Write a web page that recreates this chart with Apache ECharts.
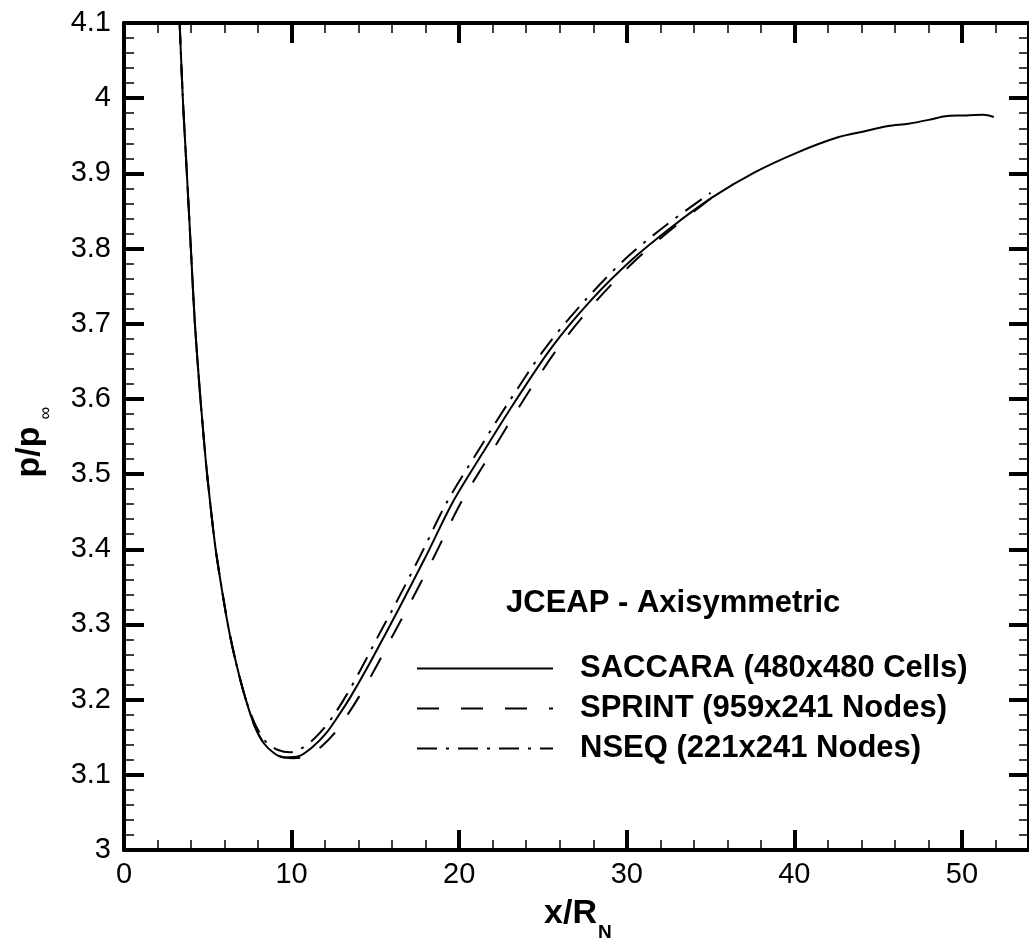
<!DOCTYPE html>
<html>
<head>
<meta charset="utf-8">
<script src="https://cdn.jsdelivr.net/npm/echarts@6/dist/echarts.min.js"></script>
<style>
html,body{margin:0;padding:0;background:#fff;}
#chart{width:1029px;height:940px;}
</style>
</head>
<body>
<div id="chart"></div>
<script>
// ---- data ----
const seriesNames = ['SACCARA (480x480 Cells)', 'SPRINT (959x241 Nodes)', 'NSEQ (221x241 Nodes)'];

const saccaraX = [3.32, 3.51, 3.75, 3.99, 4.23, 4.56, 4.67, 4.87, 5.12, 5.47, 5.94, 6.30, 6.74, 7.27, 7.81, 8.34, 9.0, 9.57, 10.46, 11.25, 12.05, 12.84, 13.5, 14.43, 15.62, 16.4, 18.0, 19.6, 21.4, 23.2, 25.5, 27.9, 30.3, 32.7, 35.1, 37.6, 40.2, 42.6, 44.2, 45.6, 46.8, 48.2, 49.0, 50.1, 51.3, 51.9];
const saccaraY = [4.1, 4.0, 3.9, 3.8, 3.7, 3.6, 3.572, 3.52, 3.466, 3.40, 3.333, 3.288, 3.244, 3.2, 3.164, 3.142, 3.128, 3.123, 3.125, 3.137, 3.155, 3.180, 3.203, 3.239, 3.288, 3.321, 3.39, 3.462, 3.528, 3.592, 3.668, 3.732, 3.785, 3.829, 3.868, 3.901, 3.928, 3.948, 3.956, 3.963, 3.966, 3.972, 3.976, 3.977, 3.978, 3.975];

const sprintX = [3.32, 3.51, 3.75, 3.99, 4.23, 4.56, 4.87, 5.12, 5.47, 5.94, 6.30, 6.74, 7.27, 7.81, 8.34, 9.0, 9.6, 10.1, 11.0, 11.75, 12.55, 13.34, 14.0, 14.93, 16.1, 16.9, 18.5, 20.1, 21.9, 23.65, 25.9, 28.25, 30.55, 32.85, 35.1];
const sprintY = [4.1, 4.0, 3.9, 3.8, 3.7, 3.6, 3.52, 3.466, 3.40, 3.333, 3.288, 3.244, 3.2, 3.164, 3.142, 3.128, 3.123, 3.122, 3.125, 3.137, 3.155, 3.180, 3.203, 3.239, 3.288, 3.321, 3.39, 3.462, 3.528, 3.592, 3.668, 3.732, 3.785, 3.829, 3.868];

const nseqX = [3.32, 3.51, 3.75, 3.99, 4.23, 4.56, 4.87, 5.12, 5.47, 5.94, 6.30, 6.74, 7.27, 7.85, 8.5, 9.2, 9.9, 10.5, 11.2, 11.9, 12.6, 13.3, 14.1, 15.25, 16.05, 17.65, 19.25, 21.05, 22.85, 25.15, 27.55, 29.95, 32.4, 35.0];
const nseqY = [4.1, 4.0, 3.9, 3.8, 3.7, 3.6, 3.52, 3.466, 3.40, 3.333, 3.288, 3.244, 3.2, 3.166, 3.143, 3.133, 3.130, 3.134, 3.145, 3.161, 3.182, 3.207, 3.239, 3.288, 3.321, 3.39, 3.462, 3.528, 3.592, 3.668, 3.732, 3.787, 3.832, 3.874];

const xTickMajor = 10, xTickMinor = 2, xMin = 0, xMax = 54;
const yTickMajor = 0.1, yMin = 3, yMax = 4.1;
const legendTitle = 'JCEAP - Axisymmetric';

// ---- chart ----
const pairs = (xs, ys) => xs.map((x, i) => [x, ys[i]]);
const FONT = '"Liberation Sans", Arial, Helvetica, sans-serif';

const chart = echarts.init(document.getElementById('chart'), null, {renderer: 'canvas'});

const majorTick = {show: true, inside: true, length: 20, lineStyle: {color: '#000', width: 4}};
const minorTick = {show: true, inside: true, length: 10, lineStyle: {color: '#000', width: 1.5}};
const thickLine = {show: true, onZero: false, lineStyle: {color: '#000', width: 4}};
const noLine = {show: false, onZero: false};

function xAx(pos, interval, tick, line, labels) {
  return {
    type: 'value', gridIndex: 0, position: pos, min: xMin, max: xMax, interval: interval,
    axisLine: line, axisTick: tick, splitLine: {show: false},
    axisLabel: labels ? {show: true, color: '#000', fontSize: 29, fontFamily: FONT, margin: 10, showMaxLabel: false} : {show: false}
  };
}

function lineSeries(i, xs, ys, type, z) {
  return {
    name: seriesNames[i], type: 'line', xAxisIndex: 0, yAxisIndex: 0,
    data: pairs(xs, ys), showSymbol: false, symbol: 'none', legendIcon: 'none',
    smooth: 0.3, clip: true,
    lineStyle: {color: '#000', width: 2, type: type}, itemStyle: {color: '#000'}, z: z
  };
}

const option = {
  animation: false,
  backgroundColor: '#fff',
  grid: {left: 124, top: 23, width: 907, height: 827, containLabel: false},
  xAxis: [
    xAx('bottom', xTickMajor, majorTick, thickLine, true),
    xAx('bottom', xTickMinor, minorTick, noLine, false),
    xAx('top', xTickMajor, majorTick, thickLine, false),
    xAx('top', xTickMinor, minorTick, noLine, false)
  ],
  yAxis: [
    {
      type: 'value', position: 'left', min: yMin, max: yMax, interval: yTickMajor,
      axisLine: thickLine, axisTick: majorTick,
      minorTick: {show: true, splitNumber: 5, length: 10, lineStyle: {color: '#000', width: 1.5}},
      splitLine: {show: false}, minorSplitLine: {show: false},
      axisLabel: {show: true, color: '#000', fontSize: 29, fontFamily: FONT, margin: 13}
    },
    {
      type: 'value', position: 'right', min: yMin, max: yMax, interval: yTickMajor,
      axisLine: thickLine, axisTick: majorTick,
      minorTick: {show: true, splitNumber: 5, length: 10, lineStyle: {color: '#000', width: 1.5}},
      splitLine: {show: false}, minorSplitLine: {show: false},
      axisLabel: {show: false}
    }
  ],
  legend: {
    show: true,
    orient: 'vertical',
    left: 416,
    top: 653,
    padding: 0,
    itemWidth: 136,
    itemHeight: 14,
    itemGap: 9,
    selectedMode: false,
    itemStyle: {color: 'rgba(0,0,0,0)', borderWidth: 0, opacity: 0},
    formatter: n => '{t|' + n + '}',
    textStyle: {
      color: '#000', fontFamily: FONT, fontWeight: 'bold', fontSize: 31, lineHeight: 31,
      rich: {t: {color: '#000', fontFamily: FONT, fontWeight: 'bold', fontSize: 31, lineHeight: 31, padding: [0, 0, 0, 22]}}
    },
    data: seriesNames
  },
  series: [
    lineSeries(0, saccaraX, saccaraY, 'solid', 3),
    lineSeries(1, sprintX, sprintY, [22, 22], 2),
    lineSeries(2, nseqX, nseqY, [20, 9, 3, 9], 2)
  ],
  graphic: [
    {type: 'text', left: 506, top: 588, silent: true,
     style: {text: legendTitle, fill: '#000', font: 'bold 31px ' + FONT}},
    // x axis title
    {type: 'text', x: 597, y: 914, silent: true,
     style: {text: 'x/R', fill: '#000', font: 'bold 34px ' + FONT, textAlign: 'right', textVerticalAlign: 'middle'}},
    {type: 'text', x: 598, y: 933, silent: true,
     style: {text: 'N', fill: '#000', font: 'bold 19px ' + FONT, textAlign: 'left', textVerticalAlign: 'middle'}},
    // y axis title (rotated)
    {type: 'text', x: 30, y: 452, rotation: Math.PI / 2, silent: true,
     style: {text: 'p/p', fill: '#000', font: 'bold 34px ' + FONT, textAlign: 'center', textVerticalAlign: 'middle'}},
    {type: 'text', x: 46, y: 413, rotation: Math.PI / 2, silent: true,
     style: {text: '∞', fill: '#000', font: '18px ' + FONT, textAlign: 'center', textVerticalAlign: 'middle'}}
  ]
};
chart.setOption(option);
</script>
</body>
</html>
